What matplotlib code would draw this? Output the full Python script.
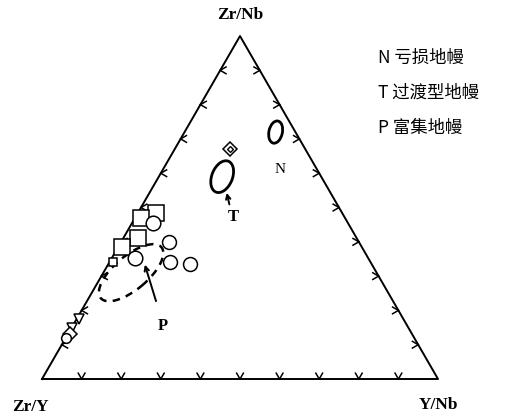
import numpy as np
import matplotlib
matplotlib.use("Agg")
import matplotlib.pyplot as plt
from matplotlib.patches import Ellipse

plt.rcParams['font.family'] = ['Noto Sans CJK SC', 'DejaVu Sans']

# ternary data, percentages (Zr/Y, Y/Nb, Zr/Nb)
circle_zry = [49, 48, 59, 50.6, 46, 88]
circle_ynb = [5.3, 12, 5.8, 15.3, 20.5, 0]
circle_zrnb = [45.5, 40, 35.3, 34.1, 33.5, 12]

square_zry = [47, 51.5, 55, 60.5]
square_ynb = [4.6, 1.5, 3.7, 1]
square_zrnb = [48.4, 47, 41.1, 38.5]

small_zry = [65]
small_ynb = [1]
small_zrnb = [34]

tri_zry = [82, 85]
tri_ynb = [0.5, 0]
tri_zrnb = [17.5, 15]

diam_zry = [19, 86.5]
diam_ynb = [14, 0.5]
diam_zrnb = [67, 13]

# field ellipses: centre (Zr/Y, Y/Nb, Zr/Nb)
field_names = ["N", "T", "P"]
field_zry = [5, 25, 62]
field_ynb = [23, 16, 7]
field_zrnb = [72, 59, 31]

legend_lines = ["N 亏损地幔", "T 过渡型地幔", "P 富集地幔"]
corner_labels = ["Zr/Y", "Y/Nb", "Zr/Nb"]

H = np.sqrt(3) / 2


def tern(a, b, c):
    a, b, c = np.asarray(a, float), np.asarray(b, float), np.asarray(c, float)
    s = a + b + c
    b, c = b / s, c / s
    return b + c / 2, c * H


fig = plt.figure(figsize=(5.08, 4.19), dpi=100)
ax = fig.add_axes([0, 0, 1, 1])
ax.set_xlim(-42 / 396, 466 / 396)
ax.set_ylim(-40 / 396, 379 / 396)
ax.axis('off')

# triangle frame
ax.plot([0, 1, 0.5, 0], [0, 0, H, 0], color='black', lw=1.4, zorder=2)

# chevron ticks
L = 0.017
def chevron(x, y, direction):
    for d in (direction - 30, direction + 30):
        r = np.radians(d)
        ax.plot([x, x + L * np.cos(r)], [y, y + L * np.sin(r)],
                color='black', lw=1.1, zorder=2)

for k in range(1, 10):
    t = k / 10
    chevron(t, 0, 90)                      # bottom edge
    chevron(t / 2, t * H, 0)               # left edge
    chevron(1 - t / 2, t * H, 180)         # right edge

# field outlines
fx, fy = tern(field_zry, field_ynb, field_zrnb)
sizes = [(0.034, 0.057, -12), (0.052, 0.084, -22), (0.20, 0.085, 40)]
styles = ['-', '-', (0, (3, 2.5))]
for x, y, (w, h, ang), ls in zip(fx, fy, sizes, styles):
    ax.add_patch(Ellipse((x, y), w, h, angle=ang, fill=False, ec='black',
                         lw=2.0 if ls == '-' else 1.8, ls=ls, zorder=3))

# samples
x, y = tern(circle_zry, circle_ynb, circle_zrnb)
ms = [10.5, 10, 10.5, 10, 10, 7]
for xi, yi, m in zip(x, y, ms):
    ax.plot(xi, yi, 'o', ms=m, mfc='white', mec='black', mew=1.1, zorder=5)
x, y = tern(square_zry, square_ynb, square_zrnb)
ax.plot(x, y, 's', ms=11, mfc='white', mec='black', mew=1.1, ls='none', zorder=4)
x, y = tern(small_zry, small_ynb, small_zrnb)
ax.plot(x, y, 's', ms=6, mfc='white', mec='black', mew=1.1, ls='none', zorder=4)
x, y = tern(tri_zry, tri_ynb, tri_zrnb)
ax.plot(x, y, 'v', ms=7, mfc='white', mec='black', mew=1.1, ls='none', zorder=4)
x, y = tern(diam_zry, diam_ynb, diam_zrnb)
ax.plot(x, y, 'D', ms=7, mfc='white', mec='black', mew=1.1, ls='none', zorder=4)
ax.plot(x[:1], y[:1], 'D', ms=3, mfc='white', mec='black', mew=1.0, ls='none', zorder=5)

# field labels and arrows
ax.text(0.601, 0.528, "N", fontsize=11, ha='center', va='center',
        family='Liberation Serif')
ax.text(0.482, 0.410, "T", fontsize=12, ha='center', va='center',
        family='Liberation Serif', weight='bold')
ax.text(0.306, 0.134, "P", fontsize=12, ha='center', va='center',
        family='Liberation Serif', weight='bold')
ax.annotate("", xy=(0.465, 0.477), xytext=(0.4747, 0.434),
            arrowprops=dict(arrowstyle='->', lw=1.4, color='black',
                            mutation_scale=8))
ax.annotate("", xy=(0.2576, 0.2955), xytext=(0.290, 0.190),
            arrowprops=dict(arrowstyle='->', lw=1.4, color='black',
                            mutation_scale=8))

# corner labels
for (cx, cy), lab in zip([(-0.03, -0.07), (1.0, -0.066), (0.5, 0.919)], corner_labels):
    ax.text(cx, cy, lab, fontsize=12.5, ha='center', va='center',
            family='Liberation Serif', weight='bold')

# legend text
for i, s in enumerate(legend_lines):
    ax.text(0.848, 0.81 - i * 0.088, s, fontsize=12.5, ha='left', va='center')

fig.savefig("out.png", dpi=100)
